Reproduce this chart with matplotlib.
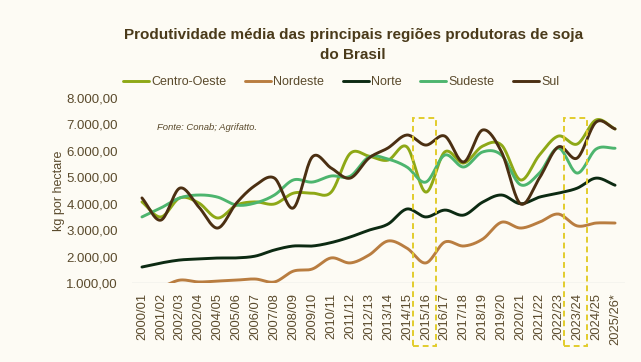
import numpy as np
import matplotlib.pyplot as plt
from matplotlib.patches import Rectangle

plt.rcParams['font.family'] = ['Liberation Sans', 'DejaVu Sans']

safras = ['2000/01', '2001/02', '2002/03', '2002/04', '2004/05', '2005/06', '2006/07',
          '2007/08', '2008/09', '2009/10', '2010/11', '2011/12', '2012/13', '2013/14',
          '2014/15', '2015/16', '2016/17', '2017/18', '2018/19', '2019/20', '2020/21',
          '2021/22', '2022/23', '2023/24', '2024/25', '2025/26*']

centro_oeste = [4070, 3500, 4220, 4030, 3460, 3950, 4070, 3990, 4400, 4400, 4440, 5900,
                5800, 5650, 6150, 4440, 5960, 5540, 6180, 6220, 4900, 5840, 6560, 6260, 7170, 6830]
nordeste = [750, 850, 1110, 1040, 1075, 1110, 1150, 1040, 1450, 1530, 1950, 1760,
            2060, 2590, 2320, 1760, 2550, 2400, 2660, 3300, 3080, 3300, 3610, 3160, 3270, 3270]
norte = [1605, 1757, 1870, 1910, 1945, 1950, 2020, 2250, 2400, 2400, 2530, 2740,
         3000, 3230, 3800, 3500, 3760, 3570, 4060, 4330, 4000, 4250, 4400, 4590, 4970, 4700]
sudeste = [3500, 3840, 4220, 4330, 4250, 3950, 4030, 4330, 4900, 4820, 5050, 5040,
           5770, 5690, 5390, 4820, 5840, 5390, 5960, 5840, 4720, 5160, 6110, 5160, 6070, 6100]
sul = [4220, 3380, 4590, 3880, 3080, 4030, 4700, 4970, 3840, 5770, 5350, 4970,
       5730, 6110, 6600, 6220, 6560, 5580, 6790, 5960, 4000, 4970, 6150, 5730, 7090, 6830]

series = [('Centro-Oeste', centro_oeste, '#8ea816'),
          ('Nordeste', nordeste, '#b97d40'),
          ('Norte', norte, '#0c2a12'),
          ('Sudeste', sudeste, '#4db56e'),
          ('Sul', sul, '#4b2f12')]

destaques = ['2015/16', '2023/24']

texto = '#5a4a2c'
fundo = '#fdfbf4'


def suavizar(y, n=20):
    # curva suavizada tipo Excel (Catmull-Rom)
    y = np.asarray(y, dtype=float)
    x = np.arange(len(y), dtype=float)
    px = np.concatenate([[2 * x[0] - x[1]], x, [2 * x[-1] - x[-2]]])
    py = np.concatenate([[2 * y[0] - y[1]], y, [2 * y[-1] - y[-2]]])
    xs, ys = [], []
    t = np.linspace(0, 1, n, endpoint=False)
    for i in range(1, len(px) - 2):
        for p, out in ((px, xs), (py, ys)):
            p0, p1, p2, p3 = p[i - 1], p[i], p[i + 1], p[i + 2]
            out.extend(0.5 * (2 * p1 + (-p0 + p2) * t + (2 * p0 - 5 * p1 + 4 * p2 - p3) * t ** 2
                              + (-p0 + 3 * p1 - 3 * p2 + p3) * t ** 3))
    xs.append(x[-1])
    ys.append(y[-1])
    return np.array(xs), np.array(ys)


fig = plt.figure(figsize=(6.41, 3.62), dpi=100, facecolor=fundo)
ax = fig.add_axes([0.2067, 0.2182, 0.7676, 0.511], facecolor=fundo)

for nome, valores, cor in series:
    xs, ys = suavizar(valores)
    ax.plot(xs, ys, color=cor, lw=2.1, label=nome, solid_capstyle='round')

ax.set_xlim(-0.5, len(safras) - 0.5)
ax.set_ylim(1000, 8000)
ax.set_yticks(range(1000, 8001, 1000))
ax.set_yticklabels([f'{v:,.2f}'.replace(',', 'X').replace('.', ',').replace('X', '.')
                    for v in range(1000, 8001, 1000)])
ax.set_xticks(range(len(safras)))
ax.set_xticklabels(safras, rotation=90)
ax.tick_params(length=0, colors=texto, labelsize=9.5)
ax.tick_params(axis='x', labelsize=9.3, pad=7)
ax.tick_params(axis='y', pad=10.5)
for s in ax.spines.values():
    s.set_visible(False)
ax.axhline(1000, color='#d9d9d9', lw=1, zorder=0)
ax.set_ylabel('kg por hectare', color=texto, fontsize=9, labelpad=1)

for d in destaques:
    i = safras.index(d)
    ax.add_patch(Rectangle((i - 0.68, -1400), 1.2, 8640, fill=False, ec='#e2cc2c',
                           lw=1.4, ls=(0, (3, 2)), clip_on=False, zorder=5))

ax.text(0.8, 6900, 'Fonte: Conab; Agrifatto.', style='italic', fontsize=6.8,
        color=texto, va='center')

fig.text(0.551, 0.875, 'Produtividade média das principais regiões produtoras de soja\ndo Brasil',
         ha='center', va='center', fontsize=11, fontweight='bold', color='#4a3a1a',
         linespacing=1.5)
fig.legend(loc='center', bbox_to_anchor=(0.532, 0.773), ncol=5, frameon=False,
           fontsize=9, handlelength=2.1, columnspacing=1.5, handletextpad=0.15,
           labelcolor=texto, borderpad=0)

fig.savefig('out.png', dpi=100, facecolor=fundo)
